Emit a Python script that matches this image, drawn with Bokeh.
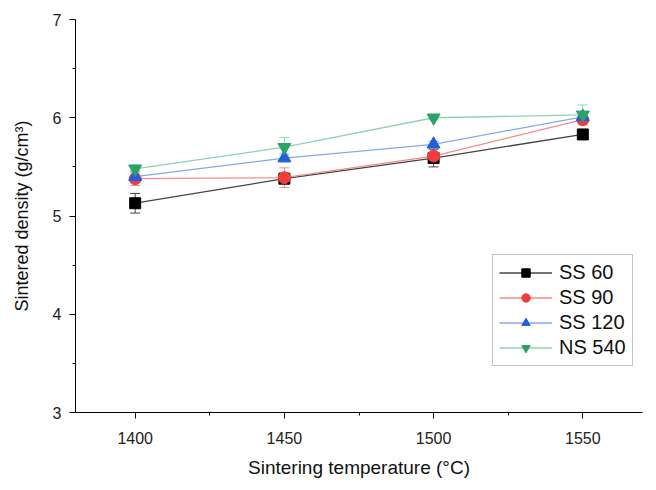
from bokeh.plotting import figure
from bokeh.models import ColumnDataSource, Whisker, TeeHead, Legend, Range1d, FixedTicker
from bokeh.embed import file_html
from bokeh.resources import INLINE

temps = [1400, 1450, 1500, 1550]
ss60 = [5.13, 5.38, 5.59, 5.83]
ss60_err = [0.10, 0.03, 0.09, 0.02]
ss90 = [5.38, 5.39, 5.61, 5.98]
ss90_err = [0.07, 0.10, 0.04, 0.05]
ss120 = [5.40, 5.59, 5.73, 6.01]
ss120_err = [0.06, 0.04, 0.03, 0.05]
ns540 = [5.48, 5.70, 6.00, 6.03]
ns540_err = [0.04, 0.10, 0.02, 0.10]
x_ticks = [1400, 1450, 1500, 1550]
y_ticks = [3, 4, 5, 6, 7]

FONT = "Liberation Sans"

p = figure(width=648, height=480, output_backend="svg", toolbar_location=None,
           x_range=Range1d(1380, 1570), y_range=Range1d(3, 7),
           min_border_left=75, min_border_right=6, min_border_top=19, min_border_bottom=64)
p.outline_line_color = None
p.xgrid.grid_line_color = None
p.ygrid.grid_line_color = None

series = [
    ("SS 60", ss60, ss60_err, "#000000", "#444444", "square", 11),
    ("SS 90", ss90, ss90_err, "#f23b3b", "#f58c8c", "circle", 12),
    ("SS 120", ss120, ss120_err, "#1f5fdc", "#86a9ee", "triangle", 13),
    ("NS 540", ns540, ns540_err, "#28a466", "#8fd4ae", "inverted_triangle", 13),
]

items = []
for name, vals, errs, mc, lc, mk, sz in series:
    src = ColumnDataSource(dict(x=temps, y=vals,
                                lo=[v - e for v, e in zip(vals, errs)],
                                hi=[v + e for v, e in zip(vals, errs)]))
    w = Whisker(source=src, base="x", upper="hi", lower="lo", line_color=lc, line_width=1,
                upper_head=TeeHead(size=10, line_color=lc, line_width=1),
                lower_head=TeeHead(size=10, line_color=lc, line_width=1))
    p.add_layout(w)
    l = p.line("x", "y", source=src, line_color=lc, line_width=1.3)
    m = p.scatter("x", "y", source=src, marker=mk, size=sz, fill_color=mc, line_color=mc)
    items.append((name, [l, m]))

legend = Legend(items=items, location=(417, 46), label_text_font=FONT,
                label_text_font_size="20px", label_text_color="#111111",
                glyph_width=53, glyph_height=21, label_height=21, spacing=2, padding=6,
                label_standoff=7, border_line_color="#888888", border_line_width=1,
                background_fill_alpha=1)
p.add_layout(legend, "center")

for ax in (p.xaxis[0], p.yaxis[0]):
    ax.axis_line_color = "#000000"
    ax.major_tick_line_color = "#000000"
    ax.minor_tick_line_color = "#000000"
    ax.major_tick_out = 6
    ax.major_tick_in = 0
    ax.minor_tick_out = 3
    ax.minor_tick_in = 0
    ax.major_label_text_font = FONT
    ax.major_label_text_font_size = "16px"
    ax.major_label_text_color = "#222222"
    ax.axis_label_text_font = FONT
    ax.axis_label_text_font_style = "normal"
    ax.axis_label_text_color = "#111111"

p.xaxis.axis_label_text_font_size = "19px"
p.yaxis.axis_label_text_font_size = "18px"
p.xaxis.ticker = FixedTicker(ticks=x_ticks, minor_ticks=[1425, 1475, 1525])
p.yaxis.ticker = FixedTicker(ticks=y_ticks, minor_ticks=[3.5, 4.5, 5.5, 6.5])
p.xaxis.axis_label = "Sintering temperature (°C)"
p.yaxis.axis_label = "Sintered density (g/cm³)"
p.xaxis.major_label_standoff = 13
p.yaxis.major_label_standoff = 8
p.xaxis.axis_label_standoff = 10
p.yaxis.axis_label_standoff = 18

open("out.html", "w").write(file_html(p, INLINE))
